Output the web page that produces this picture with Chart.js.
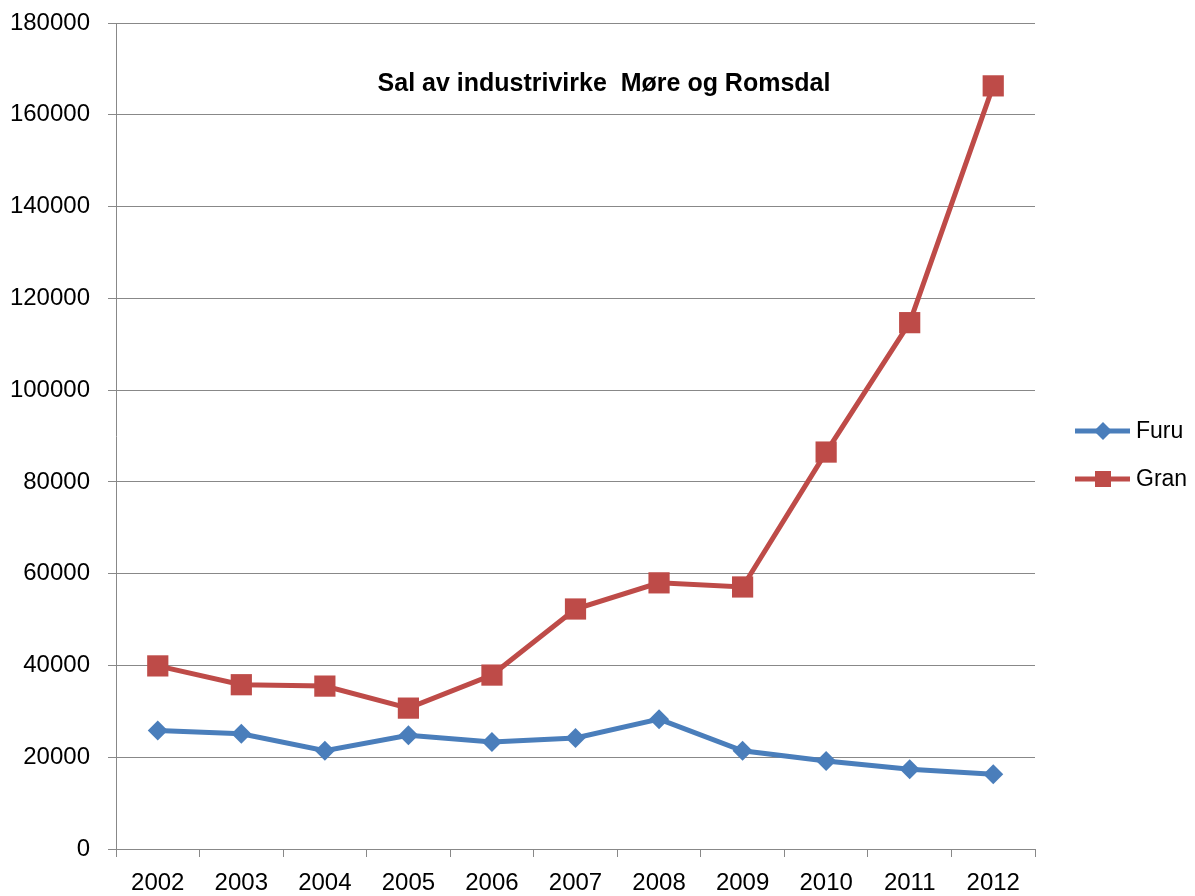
<!DOCTYPE html>
<html>
<head>
<meta charset="utf-8">
<script src="https://cdn.jsdelivr.net/npm/chart.js@4.4.0/dist/chart.umd.min.js"></script>
<style>
  html, body { margin: 0; padding: 0; background: #fff; }
  #wrap { width: 1195px; height: 896px; }
</style>
</head>
<body>
<div id="wrap"><canvas id="chart" width="1195" height="896"></canvas></div>
<script>
const years = ['2002', '2003', '2004', '2005', '2006', '2007', '2008', '2009', '2010', '2011', '2012'];
const furu = [25800, 25100, 21400, 24800, 23300, 24200, 28300, 21400, 19200, 17400, 16300];
const gran = [39900, 35800, 35500, 30700, 37900, 52300, 58000, 57100, 86500, 114700, 166300];
const yTicks = [0, 20000, 40000, 60000, 80000, 100000, 120000, 140000, 160000, 180000];
const chartTitle = 'Sal av industrivirke  M\u00f8re og Romsdal';

const FONT = '"Liberation Sans", Arial, sans-serif';
const BLUE = '#4a7ebb';
const RED = '#be4b48';
const GRID = '#888888';

// title inside the plot + legend with line and marker on the right
const extras = {
    id: 'extras',
    afterDraw(chart) {
        const ctx = chart.ctx;
        const area = chart.chartArea;
        ctx.save();
        ctx.fillStyle = '#000';
        ctx.font = 'bold 25px ' + FONT;
        ctx.textAlign = 'center';
        ctx.textBaseline = 'middle';
        ctx.fillText(chartTitle, 604, 84);

        const lx = area.right + 40;
        const ys = [431, 479];
        chart.data.datasets.forEach((ds, i) => {
            const y = ys[i];
            ctx.strokeStyle = ds.borderColor;
            ctx.lineWidth = 5;
            ctx.beginPath();
            ctx.moveTo(lx, y);
            ctx.lineTo(lx + 55, y);
            ctx.stroke();
            ctx.fillStyle = ds.borderColor;
            const cx = lx + 28;
            if (ds.pointStyle === 'rectRot') {
                ctx.beginPath();
                ctx.moveTo(cx, y - 9);
                ctx.lineTo(cx + 9, y);
                ctx.lineTo(cx, y + 9);
                ctx.lineTo(cx - 9, y);
                ctx.closePath();
                ctx.fill();
            } else {
                ctx.fillRect(cx - 8, y - 8, 16, 16);
            }
            ctx.fillStyle = '#000';
            ctx.font = '23px ' + FONT;
            ctx.textAlign = 'left';
            ctx.fillText(ds.label, lx + 61, y + 1);
        });
        ctx.restore();
    }
};

new Chart(document.getElementById('chart'), {
    type: 'line',
    data: {
        labels: years,
        datasets: [
            {
                label: 'Furu',
                data: furu,
                borderColor: BLUE,
                backgroundColor: BLUE,
                borderWidth: 5,
                pointStyle: 'rectRot',
                pointRadius: 10,
                pointBorderWidth: 0,
                tension: 0
            },
            {
                label: 'Gran',
                data: gran,
                borderColor: RED,
                backgroundColor: RED,
                borderWidth: 5,
                pointStyle: 'rect',
                pointRadius: 15,
                pointBorderWidth: 0,
                tension: 0
            }
        ]
    },
    options: {
        responsive: false,
        animation: false,
        layout: { padding: { top: 23, right: 160, bottom: 0, left: 0 } },
        plugins: {
            legend: { display: false },
            title: { display: false },
            tooltip: { enabled: false }
        },
        scales: {
            x: {
                offset: true,
                grid: { offset: true, drawOnChartArea: false, tickLength: 8, color: GRID },
                border: { color: GRID },
                ticks: { color: '#000', font: { family: FONT, size: 24 }, padding: 12, maxRotation: 0 },
                afterFit: axis => {
                    axis.height = 47;
                    axis.paddingLeft = 0;
                    axis.paddingRight = 0;
                }
            },
            y: {
                min: 0,
                max: 180000,
                afterBuildTicks: axis => { axis.ticks = yTicks.map(v => ({ value: v })); },
                afterFit: axis => {
                    axis.width = 116;
                    axis.paddingTop = 0;
                    axis.paddingBottom = 0;
                },
                grid: { color: GRID, tickLength: 8 },
                border: { color: GRID },
                ticks: { color: '#000', font: { family: FONT, size: 24 }, padding: 18, callback: v => String(v) }
            }
        }
    },
    plugins: [extras]
});
</script>
</body>
</html>
